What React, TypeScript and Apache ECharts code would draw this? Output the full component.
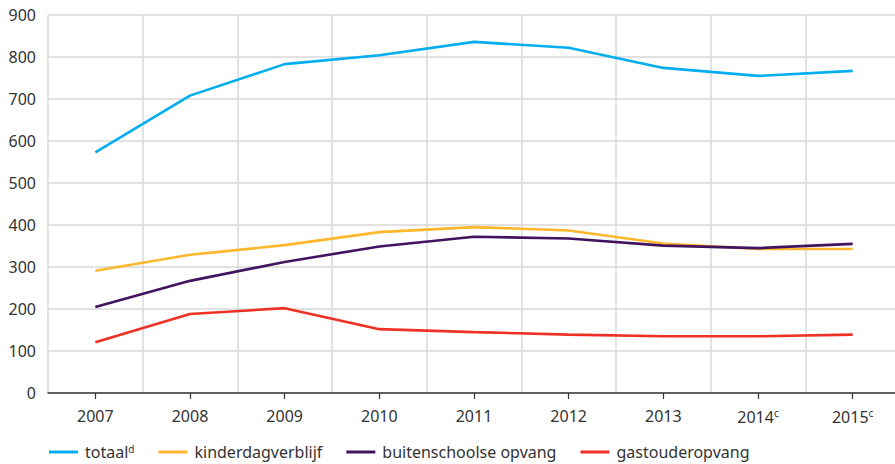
import React, { useEffect, useRef } from "react";
import * as echarts from "echarts";

const years = ["2007", "2008", "2009", "2010", "2011", "2012", "2013", "2014", "2015"];
const yearNotes = ["", "", "", "", "", "", "", "c", "c"];
const yTicks = { min: 0, max: 900, interval: 100 };

const totaal = [573, 708, 783, 804, 836, 822, 774, 755, 767];
const kinderdagverblijf = [291, 329, 352, 383, 395, 387, 356, 343, 343];
const buitenschoolse = [205, 267, 312, 349, 372, 368, 351, 345, 355];
const gastouder = [121, 188, 202, 152, 145, 139, 135, 135, 139];

const seriesNames = ["totaal", "kinderdagverblijf", "buitenschoolse opvang", "gastouderopvang"];
const seriesNotes: Record<string, string> = { totaal: "d" };
const seriesData = [totaal, kinderdagverblijf, buitenschoolse, gastouder];
const colors = ["#00aeef", "#ffb72e", "#42145f", "#ee3124"];

const FONT = "'Noto Sans', 'Open Sans', sans-serif";
const TEXT = "#333333";

export default function App() {
  const ref = useRef<HTMLDivElement>(null);
  useEffect(() => {
    if (!ref.current) return;
    const chart = echarts.init(ref.current, undefined, { renderer: "svg" });
    chart.setOption({
      animation: false,
      textStyle: { fontFamily: FONT },
      grid: { left: 48, right: 5, top: 15, bottom: 71 },
      legend: {
        left: 44,
        bottom: -1,
        itemWidth: 29,
        itemHeight: 3,
        itemGap: 24,
        icon: "rect",
        data: seriesNames,
        formatter: (name: string) => (seriesNotes[name] ? `${name}{sup|${seriesNotes[name]}}` : name),
        textStyle: {
          fontFamily: FONT,
          fontSize: 16,
          color: TEXT,
          padding: [0, 0, 0, 2],
          rich: {
            sup: { fontSize: 10, color: TEXT, fontFamily: FONT, padding: [0, 0, 7, 0] },
          },
        },
      },
      xAxis: {
        type: "category",
        data: years,
        boundaryGap: true,
        axisLine: { show: true, lineStyle: { color: "#333333", width: 1.5 } },
        axisTick: { show: true, interval: 0, alignWithLabel: true, length: 6, lineStyle: { color: "#333333", width: 1.2 } },
        splitLine: { show: true, interval: 0, lineStyle: { color: "#d9d9d9", width: 1.5 } },
        axisLabel: {
          interval: 0,
          color: TEXT,
          fontSize: 16,
          fontFamily: FONT,
          margin: 15,
          formatter: (v: string) => {
            const i = years.indexOf(v);
            return yearNotes[i] ? `${v}{sup|${yearNotes[i]}}` : v;
          },
          rich: {
            sup: { fontSize: 10, color: TEXT, fontFamily: FONT, padding: [0, 0, 7, 0] },
          },
        },
      },
      yAxis: {
        type: "value",
        min: yTicks.min,
        max: yTicks.max,
        interval: yTicks.interval,
        axisLine: { show: false },
        axisTick: { show: false },
        splitLine: { show: true, lineStyle: { color: "#d9d9d9", width: 1.5 } },
        axisLabel: { color: TEXT, fontSize: 16, fontFamily: FONT, margin: 12 },
      },
      series: seriesNames.map((name, i) => ({
        name,
        type: "line",
        data: seriesData[i],
        symbol: "none",
        color: colors[i],
        lineStyle: { color: colors[i], width: 2.6 },
      })),
    });
    return () => chart.dispose();
  }, []);
  return (
    <div style={{ position: "absolute", left: 0, top: 0, width: 895, height: 464, overflow: "hidden", background: "#fff" }}>
      <div ref={ref} style={{ width: 905, height: 464 }} />
    </div>
  );
}
